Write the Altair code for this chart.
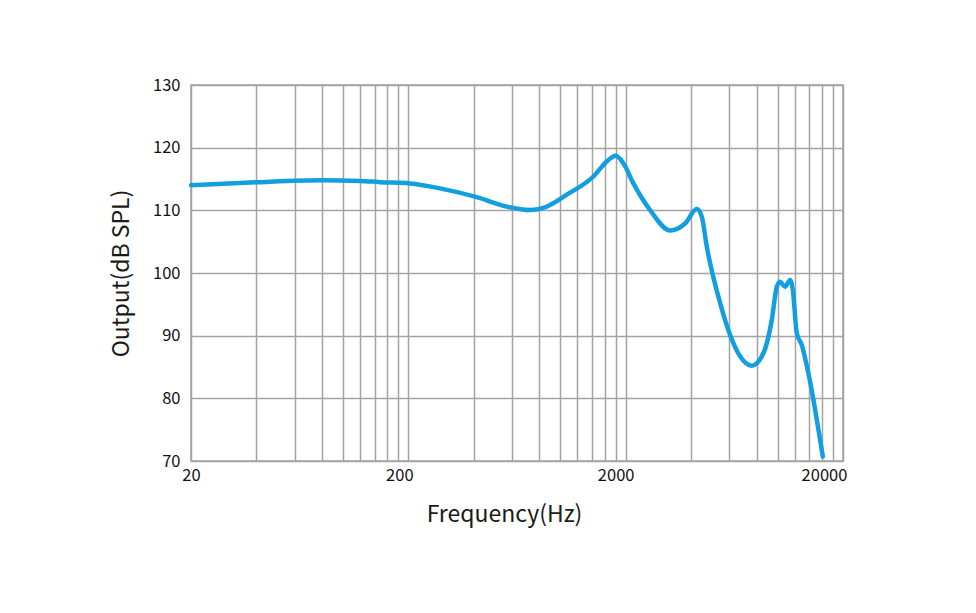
import altair as alt
import pandas as pd

freq = [20, 40.7, 81, 120, 148, 204, 280, 413, 567, 726, 867, 1071, 1421, 1637, 1801,
        1952, 2170, 2590, 3202, 3754, 4248, 4480, 4724, 5440, 6260, 6722, 7610, 8604,
        9404, 9916, 10270, 10828, 11420, 11750, 12260, 12930, 13860, 16150]
spl = [114.0, 114.5, 114.8, 114.7, 114.5, 114.3, 113.5, 112.1, 110.6, 110.05, 110.6,
       112.5, 115.4, 117.8, 118.7, 117.5, 114.3, 110.05, 106.8, 107.9, 110.2, 109.0,
       104.2, 95.2, 88.8, 86.7, 85.2, 87.2, 92.5, 97.8, 98.6, 97.8, 98.9, 97.3, 90.4,
       88.5, 84.0, 70.7]

grid_x = [20, 40, 60, 80, 100, 120, 140, 160, 180, 200,
          400, 600, 800, 1000, 1200, 1400, 1600, 1800, 2000,
          4000, 6000, 8000, 10000, 12000, 14000, 16000, 18000, 20000]
label_x = [20, 200, 2000, 20000]
y_ticks = [70, 80, 90, 100, 110, 120, 130]

df = pd.DataFrame({"freq": freq, "spl": spl})

FONT = "Noto Sans CJK SC"
GRID = "#a3a3a3"

chart = alt.Chart(df).mark_line(
    color="#129fdf", strokeWidth=4.5, interpolate="monotone", strokeCap="round"
).encode(
    x=alt.X(
        "freq:Q",
        scale=alt.Scale(type="log", domain=[20, 20000], nice=False),
        axis=alt.Axis(
            values=grid_x,
            format="d",
            labelExpr="indexof([20,200,2000,20000], datum.value) >= 0 ? datum.label : ''",
            labelOffset={"condition": [
                {"test": "datum.value == 200", "value": -9},
                {"test": "datum.value == 2000", "value": -10},
                {"test": "datum.value == 20000", "value": -19},
            ], "value": 0},
            labelFont=FONT, labelFontSize=16.5, labelColor="#111111",
            labelPadding=6, labelFlush=False, labelOverlap=False,
            ticks=False, domain=False,
            grid=True, gridColor=GRID, gridWidth=1.5, gridOpacity=1,
            title="Frequency(Hz)", titleFont=FONT, titleFontSize=23,
            titleFontWeight="normal", titleColor="#1a1a1a",
            titleX=313, titleY=60, titleBaseline="alphabetic", titleAnchor="middle",
            titleAlign="center",
        ),
    ),
    y=alt.Y(
        "spl:Q",
        scale=alt.Scale(domain=[70, 130], nice=False, zero=False),
        axis=alt.Axis(
            values=y_ticks,
            labelFont=FONT, labelFontSize=16.5, labelColor="#111111",
            labelPadding=11, ticks=False, domain=False,
            grid=True, gridColor=GRID, gridWidth=1.5, gridOpacity=1,
            title="Output(dB SPL)", titleFont=FONT, titleFontSize=23,
            titleFontWeight="normal", titleColor="#1a1a1a",
            titleX=-63, titleY=188, titleAngle=-90, titleAlign="center",
            titleBaseline="alphabetic",
        ),
    ),
).properties(
    width=652, height=376,
    autosize=alt.AutoSizeParams(type="none"),
    padding={"left": 183, "top": 77, "right": 120, "bottom": 100},
).configure_view(
    stroke=GRID, strokeWidth=1.5
)

chart.save("out.html", embed_options={"renderer": "svg", "actions": False})
